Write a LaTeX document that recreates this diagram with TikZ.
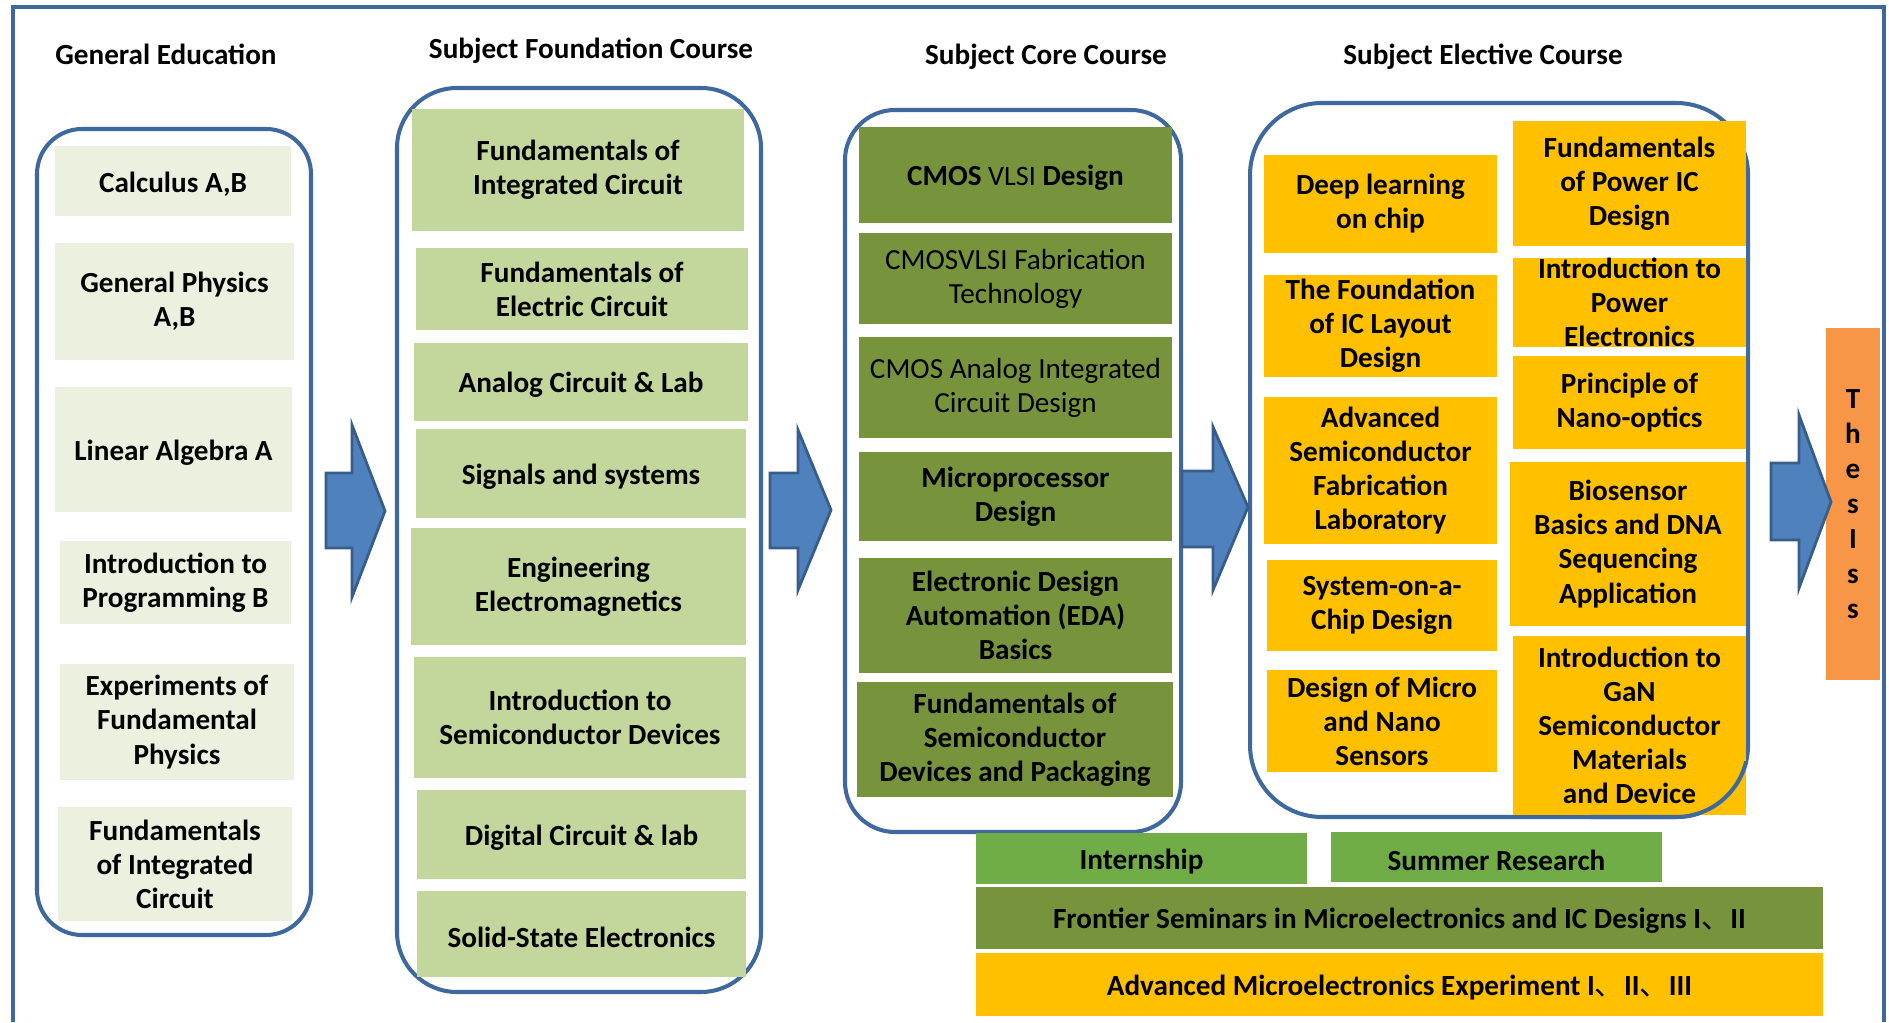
\documentclass[tikz,border=0pt]{standalone}
\usepackage{fontspec}
\setmainfont{Carlito}
\newfontfamily\cjkfont{Noto Sans CJK SC}
\usepackage{tikz}
\usepackage{xcolor}

\definecolor{genfill}{RGB}{235,241,222}
\definecolor{basefill}{RGB}{195,214,155}
\definecolor{corefill}{RGB}{119,147,60}
\definecolor{electfill}{RGB}{255,192,0}
\definecolor{practfill}{RGB}{112,173,71}
\definecolor{thesisfill}{RGB}{247,150,70}
\definecolor{flowfill}{RGB}{79,129,189}
\definecolor{flowline}{RGB}{56,93,138}
\definecolor{groupline}{RGB}{62,104,158}

\newcommand{\coursefont}{\fontsize{8.3}{9.7}\selectfont\bfseries}
\newcommand{\dun}{{\cjkfont\mdseries 、}}

\tikzset{
  course/.style={inner sep=0pt, align=center, font=\coursefont,
    execute at begin node={\rule{0pt}{0.92em}}},
  genbox/.style={course, fill=genfill},
  basebox/.style={course, fill=basefill},
  corebox/.style={course, fill=corefill},
  electbox/.style={course, fill=electfill},
  practbox/.style={course, fill=practfill},
  thesisbox/.style={inner sep=0pt, align=center, fill=thesisfill, font=\fontsize{8.3}{9.96}\selectfont\bfseries},
  group/.style={draw=groupline, line width=1.15pt},
  frame/.style={draw=groupline, line width=1pt},
  flow/.style={fill=flowfill, draw=flowline, line width=0.8pt, line join=miter},
  heading/.style={font=\coursefont}
}

\begin{document}
\begin{tikzpicture}
\useasboundingbox (0,0) rectangle (18.89,10.22);
\draw[frame] (0.13,0) -- (0.13,10.15) -- (18.84,10.15) -- (18.84,0);

% column headings
\node[heading] (hgen) at (1.66,9.68) {General Education};
\node[heading] (hbase) at (5.91,9.71) {Subject Foundation Course};
\node[heading] (hcore) at (10.46,9.65) {Subject Core Course};
\node[heading] (helect) at (14.83,9.65) {Subject Elective Course};

% group frames
\draw[group, rounded corners=0.45cm] (0.37,0.87) rectangle (3.11,8.93);
\draw[group, rounded corners=0.6cm] (3.97,0.30) rectangle (7.61,9.34);
\draw[group, rounded corners=0.5cm] (8.45,1.90) rectangle (11.81,9.12);
\draw[group, rounded corners=0.72cm] (12.50,2.05) rectangle (17.48,9.19);

% general education
\node[genbox, minimum width=2.36cm, minimum height=0.70cm] (calc) at (1.73,8.41) {Calculus A,B};
\node[genbox, minimum width=2.39cm, minimum height=1.17cm] (phys) at (1.745,7.205) {General Physics\\A,B};
\node[genbox, minimum width=2.37cm, minimum height=1.25cm] (linalg) at (1.735,5.725) {Linear Algebra A};
\node[genbox, minimum width=2.31cm, minimum height=0.83cm] (prog) at (1.755,4.395) {Introduction to\\Programming B};
\node[genbox, minimum width=2.34cm, minimum height=1.16cm] (expphys) at (1.77,3.00) {Experiments of\\Fundamental\\Physics};
\node[genbox, minimum width=2.34cm, minimum height=1.14cm] (fundic) at (1.75,1.58) {Fundamentals\\of Integrated\\Circuit};

% subject foundation
\node[basebox, minimum width=3.32cm, minimum height=1.22cm] (baseic) at (5.78,8.52) {Fundamentals of\\Integrated Circuit};
\node[basebox, minimum width=3.32cm, minimum height=0.82cm] (elec) at (5.82,7.33) {Fundamentals of\\Electric Circuit};
\node[basebox, minimum width=3.34cm, minimum height=0.78cm] (analog) at (5.81,6.40) {Analog Circuit \& Lab};
\node[basebox, minimum width=3.30cm, minimum height=0.89cm] (signal) at (5.81,5.485) {Signals and systems};
\node[basebox, minimum width=3.35cm, minimum height=1.17cm] (emag) at (5.785,4.355) {Engineering\\Electromagnetics};
\node[basebox, minimum width=3.32cm, minimum height=1.21cm] (semi) at (5.80,3.045) {Introduction to\\Semiconductor Devices};
\node[basebox, minimum width=3.29cm, minimum height=0.89cm] (digital) at (5.815,1.875) {Digital Circuit \& lab};
\node[basebox, minimum width=3.29cm, minimum height=0.86cm] (solid) at (5.815,0.88) {Solid-State Electronics};

% subject core
\node[corebox, minimum width=3.13cm, minimum height=0.96cm] (vlsi) at (10.155,8.47) {CMOS {\mdseries\footnotesize VLSI} Design};
\node[corebox, minimum width=3.13cm, minimum height=0.91cm, font=\coursefont\mdseries] (fab) at (10.155,7.435) {CMOSVLSI Fabrication\\Technology};
\node[corebox, minimum width=3.13cm, minimum height=1.01cm, font=\coursefont\mdseries] (aic) at (10.155,6.345) {CMOS Analog Integrated\\Circuit Design};
\node[corebox, minimum width=3.13cm, minimum height=0.89cm] (micro) at (10.155,5.255) {Microprocessor\\Design};
\node[corebox, minimum width=3.13cm, minimum height=1.15cm] (eda) at (10.155,4.065) {Electronic Design\\Automation (EDA)\\Basics};
\node[corebox, minimum width=3.16cm, minimum height=1.15cm] (pack) at (10.15,2.825) {Fundamentals of\\Semiconductor\\Devices and Packaging};

% subject elective, left
\node[electbox, minimum width=2.33cm, minimum height=0.98cm] (deep) at (13.805,8.18) {Deep learning\\on chip};
\node[electbox, minimum width=2.33cm, minimum height=1.02cm] (layout) at (13.805,6.96) {The Foundation\\of IC Layout\\Design};
\node[electbox, minimum width=2.33cm, minimum height=1.47cm] (advfab) at (13.805,5.515) {Advanced\\Semiconductor\\Fabrication\\Laboratory};
\node[electbox, minimum width=2.30cm, minimum height=0.91cm] (soc) at (13.82,4.165) {System-on-a-\\Chip Design};
\node[electbox, minimum width=2.30cm, minimum height=1.02cm] (sensor) at (13.82,3.01) {Design of Micro\\and Nano\\Sensors};

% subject elective, right
\node[electbox, minimum width=2.33cm, minimum height=1.25cm] (powic) at (16.295,8.385) {Fundamentals\\of Power IC\\Design};
\node[electbox, minimum width=2.33cm, minimum height=0.89cm] (powel) at (16.295,7.195) {Introduction to\\Power\\Electronics};
\node[electbox, minimum width=2.33cm, minimum height=0.93cm] (optics) at (16.295,6.195) {Principle of\\Nano-optics};
\node[electbox, minimum width=2.36cm, minimum height=1.64cm] (bio) at (16.28,4.78) {Biosensor\\Basics and DNA\\Sequencing\\Application};
\node[electbox, minimum width=2.33cm, minimum height=1.79cm] (gan) at (16.295,2.965) {Introduction to\\GaN\\Semiconductor\\Materials\\and Device};

% frame edge running over the GaN box
\begin{scope}
\clip (15.9,0) rectangle (18,2.6);
\draw[group, rounded corners=0.72cm] (12.50,2.05) rectangle (17.48,9.19);
\end{scope}

% practice and seminars
\node[practbox, minimum width=3.31cm, minimum height=0.51cm] (intern) at (11.415,1.635) {Internship};
\node[practbox, minimum width=3.31cm, minimum height=0.50cm] (summer) at (14.965,1.65) {Summer Research};
\node[corebox, minimum width=8.47cm, minimum height=0.62cm] (seminar) at (13.995,1.04) {Frontier Seminars in Microelectronics and IC Designs I\dun II};
\node[electbox, minimum width=8.47cm, minimum height=0.63cm] (advexp) at (13.995,0.375) {Advanced Microelectronics Experiment I\dun II\dun III};

% thesis
\node[thesisbox, minimum width=0.54cm, minimum height=3.52cm] (thesis) at (18.53,5.18) {T\\h\\e\\s\\I\\s\\s};

% block arrows between the groups
\draw[flow] (3.26,5.49) -- (3.52,5.49) -- (3.52,5.97) -- (3.85,5.11) -- (3.52,4.25) -- (3.52,4.74) -- (3.26,4.74) -- cycle;
\draw[flow] (7.70,5.49) -- (7.98,5.49) -- (7.98,5.92) -- (8.31,5.12) -- (7.98,4.32) -- (7.98,4.74) -- (7.70,4.74) -- cycle;
\draw[flow] (11.82,5.51) -- (12.13,5.51) -- (12.13,5.95) -- (12.48,5.15) -- (12.13,4.32) -- (12.13,4.75) -- (11.82,4.75) -- cycle;
\draw[flow] (17.71,5.59) -- (17.99,5.59) -- (17.99,6.07) -- (18.31,5.20) -- (17.99,4.34) -- (17.99,4.82) -- (17.71,4.82) -- cycle;
\end{tikzpicture}
\end{document}
